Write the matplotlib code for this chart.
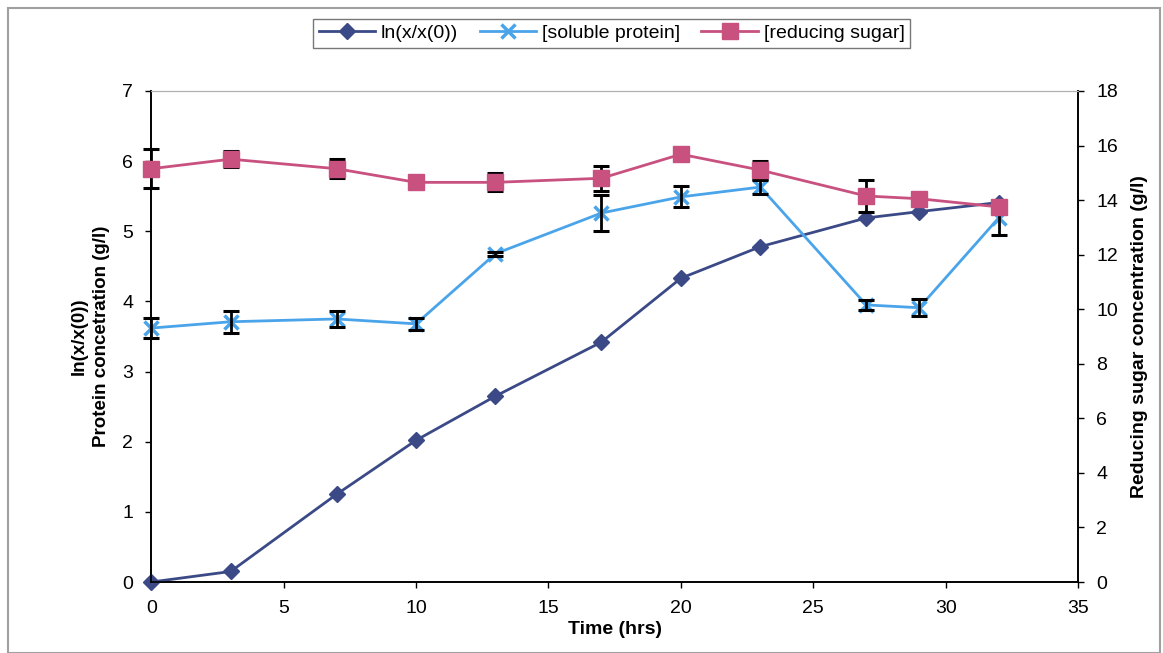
import matplotlib
matplotlib.use("Agg")
from matplotlib import pyplot as plt
from matplotlib.patches import Rectangle
import numpy as np

plt.rcParams['font.family'] = ['Liberation Sans', 'DejaVu Sans']

time_hrs = [0, 3, 7, 10, 13, 17, 20, 23, 27, 29, 32]
ln_growth = [0.0, 0.15, 1.25, 2.02, 2.65, 3.42, 4.33, 4.78, 5.19, 5.28, 5.41]
protein = [3.62, 3.71, 3.75, 3.68, 4.68, 5.26, 5.49, 5.63, 3.95, 3.91, 5.19]
protein_err = [0.14, 0.16, 0.11, 0.09, 0.03, 0.25, 0.15, 0.10, 0.07, 0.12, 0.24]
sugar = [15.15, 15.5, 15.15, 14.65, 14.65, 14.8, 15.68, 15.1, 14.15, 14.05, 13.75]
sugar_err = [0.72, 0.3, 0.35, 0.0, 0.33, 0.45, 0.0, 0.33, 0.6, 0.0, 0.0]

c_ln = '#3b4a86'
c_prot = '#4aa4ea'
c_sugar = '#c8517f'


def unclip(container):
    # let caps at x=0 spill over the axis like in the original
    for art in container.lines[1] + container.lines[2]:
        art.set_clip_on(False)


fig = plt.figure(figsize=(11.63, 6.53), dpi=100)
ax = fig.add_axes([0.130, 0.1087, 0.797, 0.752])
ax2 = ax.twinx()

eb1 = ax.errorbar(time_hrs, protein, yerr=protein_err, fmt='none', ecolor='black',
                  elinewidth=2, capsize=6, capthick=2.2, zorder=4)
unclip(eb1)
l1, = ax.plot(time_hrs, ln_growth, color=c_ln, marker='D', markersize=8, lw=2,
              label='ln(x/x(0))', zorder=3, clip_on=False)
l2, = ax.plot(time_hrs, protein, color=c_prot, marker='x', markersize=10, mew=2.5, lw=2,
              label='[soluble protein]', zorder=3, clip_on=False)
eb2 = ax2.errorbar(time_hrs, sugar, yerr=sugar_err, fmt='none', ecolor='black',
                   elinewidth=2, capsize=6, capthick=2.2, zorder=2)
unclip(eb2)
l3, = ax2.plot(time_hrs, sugar, color=c_sugar, marker='s', markersize=11, lw=2,
               label='[reducing sugar]', zorder=3, clip_on=False)

ax.set_xlim(0, 35)
ax.set_ylim(0, 7)
ax2.set_ylim(0, 18)
ax.set_xticks(np.arange(0, 36, 5))
ax.set_yticks(np.arange(0, 8, 1))
ax2.set_yticks(np.arange(0, 19, 2))

for a in (ax, ax2):
    a.tick_params(labelsize=14, length=4, width=1, direction='out', pad=9)
    a.spines['top'].set_color('#b0b0b0')
    for s in ('left', 'right', 'bottom'):
        a.spines[s].set_color('black')
        a.spines[s].set_linewidth(1.2)

ax.set_xlabel('Time (hrs)', fontsize=14, fontweight='bold', labelpad=3)
ax.set_ylabel('ln(x/x(0))\nProtein concetration (g/l)', fontsize=13.5, fontweight='bold',
              labelpad=9, linespacing=1.35)
ax2.set_ylabel('Reducing sugar concentration (g/l)', fontsize=14, fontweight='bold', labelpad=9)

fig.legend(handles=[l1, l2, l3], loc='center', bbox_to_anchor=(0.526, 0.949), ncol=3,
           fontsize=14, frameon=True, fancybox=False, edgecolor='#555555',
           handlelength=2.9, columnspacing=1.1, handletextpad=0.3, borderpad=0.3)

fig.patches.append(Rectangle((0.007, 0.0), 0.990, 0.988, transform=fig.transFigure,
                             fill=False, edgecolor='#a0a0a0', lw=1.5))

fig.savefig('out.png', dpi=100)
